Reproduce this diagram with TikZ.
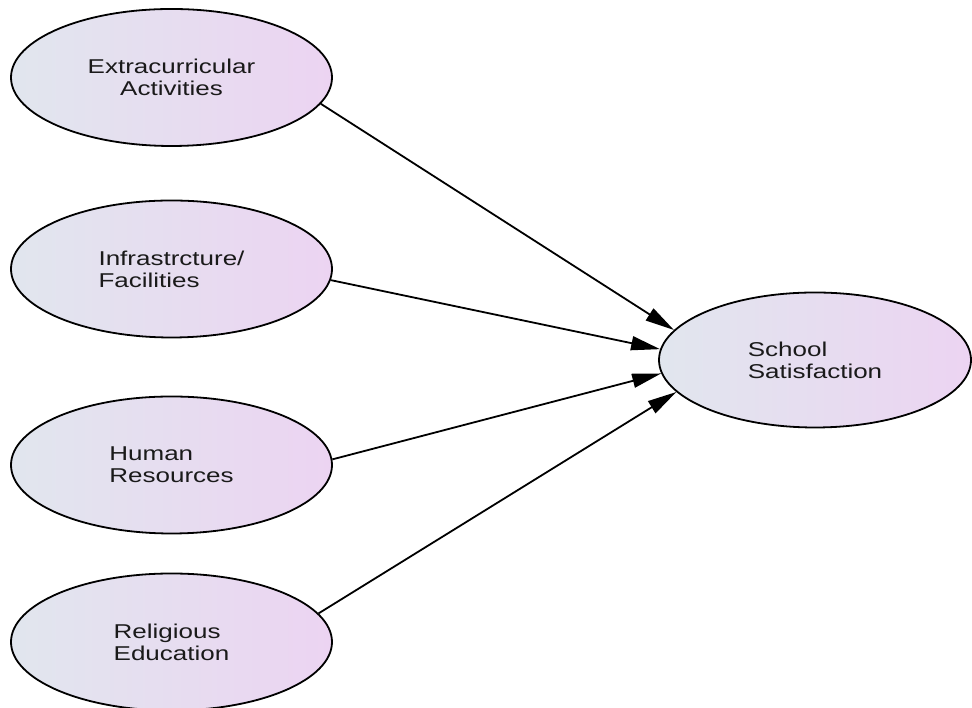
\documentclass[tikz,border=0pt]{standalone}
\usepackage{fontspec}
\setmainfont{Liberation Sans}[FakeStretch=1.3]
\usepackage{tikz}
\usetikzlibrary{arrows.meta, shapes.geometric}
\definecolor{ovalleft}{HTML}{E1E6EE}
\definecolor{ovalright}{HTML}{ECD4F2}
\definecolor{inktext}{HTML}{1A1A1A}
\tikzset{
  oval/.style = {ellipse, draw, line width=1.8pt, left color=ovalleft, right color=ovalright,
                 minimum width=321pt, minimum height=137pt, inner sep=0pt, text=inktext,
                 align=left, font=\fontsize{20}{22}\selectfont},
  link/.style = {-{Triangle[length=29pt, width=14pt]}, line width=1.8pt, black},
}

\begin{document}
\begin{tikzpicture}[x=1pt, y=1pt]
  \useasboundingbox (0,0) rectangle (972,708);
  % factors
  \node[oval, align=center] (extra) at (171.5,630.5) {Extracurricular\\Activities};
  \node[oval] (infra) at (171.5,439) {Infrastrcture/\\Facilities};
  \node[oval] (human) at (171.5,243) {Human\\Resources};
  \node[oval] (relig) at (171.5,66) {Religious\\Education};
  % outcome
  \node[oval, minimum width=312pt, minimum height=135pt] (school) at (815,348) {School\\Satisfaction};
  \foreach \src/\a/\b in {extra/-10/168, infra/-4/176, human/2.5/185, relig/11/193}
    \draw[link] (\src.\a) -- (school.\b);
\end{tikzpicture}
\end{document}
